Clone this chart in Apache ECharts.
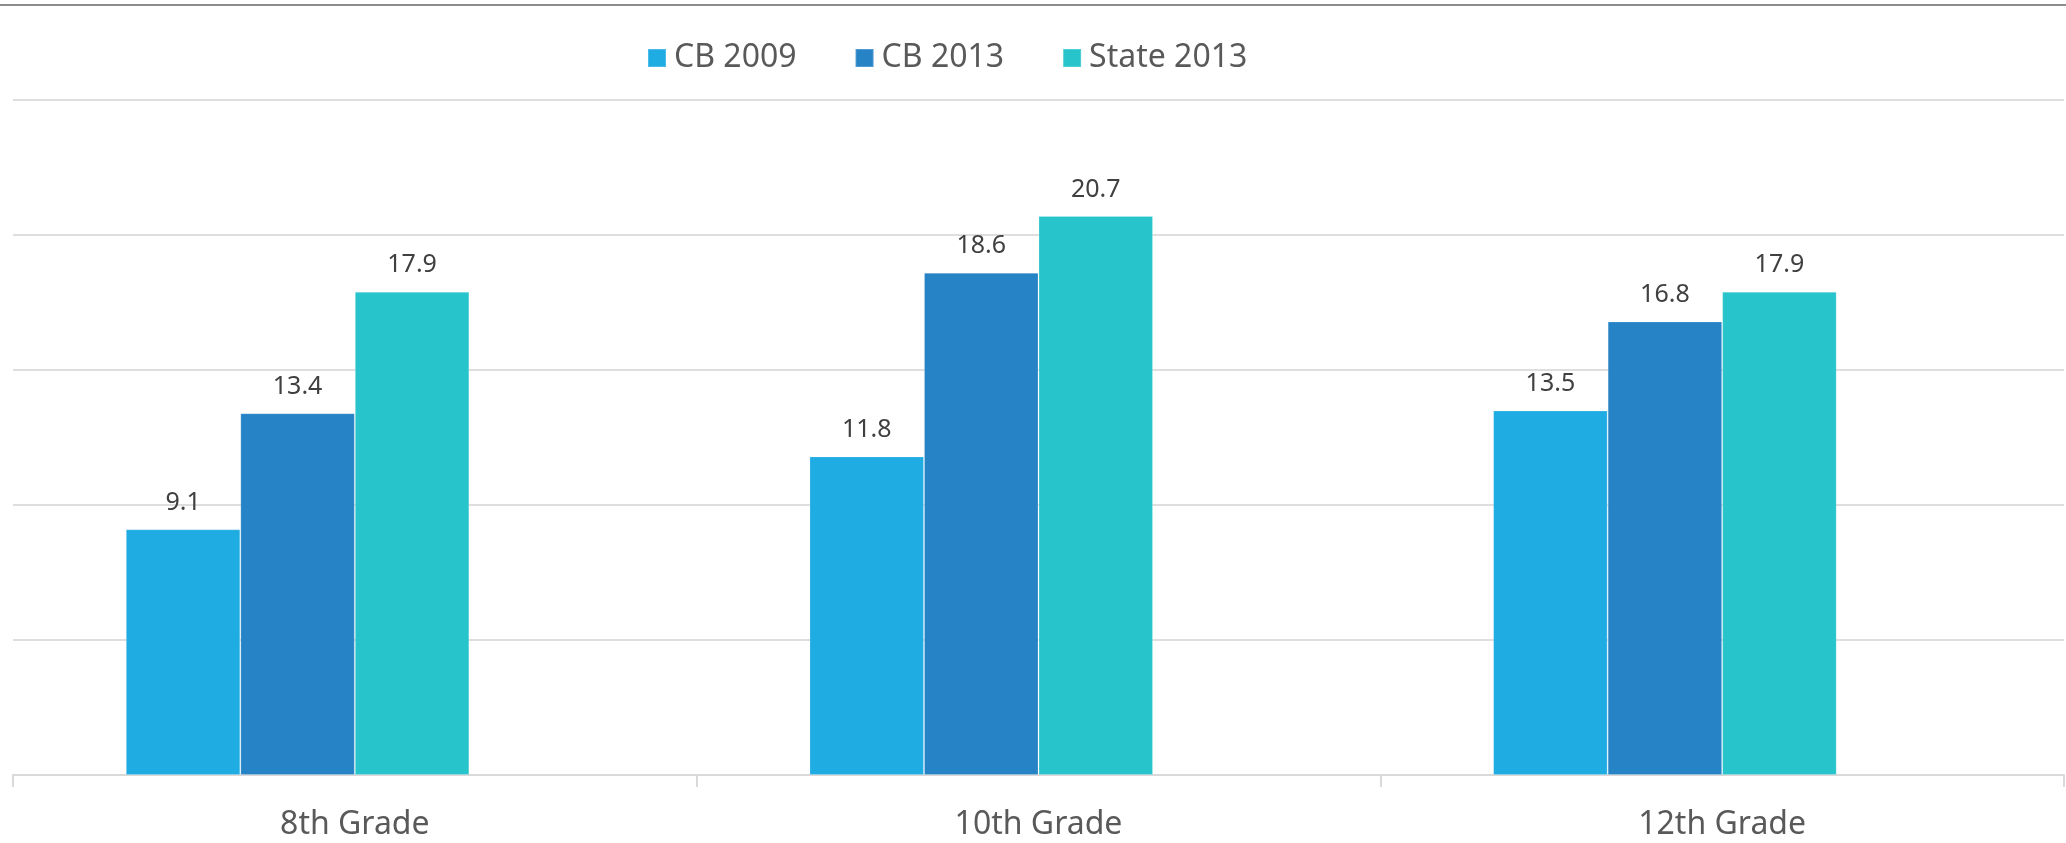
<!DOCTYPE html>
<html>
<head>
<meta charset="utf-8">
<script src="https://cdn.jsdelivr.net/npm/echarts@6/dist/echarts.min.js"></script>
<style>
  html, body { margin: 0; padding: 0; background: #fff; }
  #wrap { position: relative; width: 2066px; height: 843px; }
  #chart { width: 2066px; height: 843px; }
  #frame { position: absolute; left: 0; top: 4px; width: 2066px; height: 2px; background: #8c8c8c; }
</style>
</head>
<body>
<div id="wrap">
  <div id="chart"></div>
  <div id="frame"></div>
</div>
<script>
var grades = ['8th Grade', '10th Grade', '12th Grade']
var cb2009 = [9.1, 11.8, 13.5]
var cb2013 = [13.4, 18.6, 16.8]
var state2013 = [17.9, 20.7, 17.9]
// the source chart keeps an empty fourth slot in every group
var emptySlot = ['-', '-', '-']

var colors = ['#1eace3', '#2683c6', '#27c4cb']
var font = 'Noto Sans'

var myChart = echarts.init(document.getElementById('chart'))

function barSeries(name, data, color) {
  return {
    name: name,
    type: 'bar',
    barGap: 0,
    barCategoryGap: '33%',
    itemStyle: { color: color, borderColor: 'rgba(255,255,255,0.2)', borderWidth: 1 },
    label: {
      show: true,
      position: 'top',
      distance: 14,
      color: '#404040',
      fontFamily: font,
      fontSize: 25
    },
    data: data
  }
}

var option = {
  animation: false,
  textStyle: { fontFamily: font },
  legend: {
    data: ['CB 2009', 'CB 2013', 'State 2013'],
    left: 642,
    top: 37,
    itemWidth: 18,
    itemHeight: 18,
    itemGap: 58,
    icon: 'rect',
    textStyle: { color: '#595959', fontSize: 32, fontFamily: font, lineHeight: 32, padding: [0, 0, 0, 3] }
  },
  grid: { left: 13, right: 2, top: 100, bottom: 67 },
  xAxis: {
    type: 'category',
    data: grades,
    axisLine: { lineStyle: { color: '#d9d9d9', width: 2 } },
    axisTick: { show: true, length: 12, lineStyle: { color: '#d9d9d9', width: 2 } },
    axisLabel: { color: '#595959', fontSize: 32, fontFamily: font, lineHeight: 36, margin: 32 }
  },
  yAxis: {
    type: 'value',
    min: 0,
    max: 25,
    interval: 5,
    axisLabel: { show: false },
    axisLine: { show: false },
    axisTick: { show: false },
    splitLine: { lineStyle: { color: '#dedede', width: 2 } }
  },
  series: [
    barSeries('CB 2009', cb2009, colors[0]),
    barSeries('CB 2013', cb2013, colors[1]),
    barSeries('State 2013', state2013, colors[2]),
    { name: 'blank', type: 'bar', barGap: 0, barCategoryGap: '33%', data: emptySlot }
  ]
}
myChart.setOption(option)
</script>
</body>
</html>
